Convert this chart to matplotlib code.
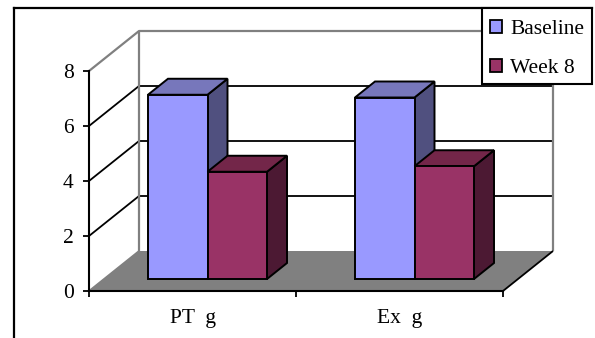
import matplotlib
matplotlib.use("Agg")
import matplotlib.pyplot as plt
from matplotlib.lines import Line2D
from matplotlib.patches import Patch, Polygon, Rectangle

categories = ["PT  g", "Ex  g"]
series_names = ["Baseline", "Week 8"]
baseline = [6.7, 6.6]
week8 = [3.9, 4.1]
y_ticks = [0, 2, 4, 6, 8]

# colours: front, top, side
blue = ("#9999FF", "#7777BB", "#50507F")
maroon = ("#993366", "#732649", "#4C1933")
wall = "#808080"

plt.rcParams["font.family"] = ["Liberation Serif", "DejaVu Serif"]

W, H = 595, 338
fig = plt.figure(figsize=(W / 100, H / 100), dpi=100)
ax = fig.add_axes([89 / W, (H - 291) / H, 414 / W, 220 / H])
ax.set_xlim(0, 2)
ax.set_ylim(0, 8)

# oblique depth of the 3D box, in data units
DX = 50 / 207
DY = 40 / 27.5


def proj(x, y, d):
    return (x + DX * d, y + DY * d)


def poly(pts, fc, ec="black", lw=1.4, z=2):
    ax.add_patch(Polygon(pts, closed=True, fc=fc, ec=ec, lw=lw, zorder=z,
                         clip_on=False, joinstyle="miter"))


def line(pts, color="black", lw=1.3, z=1):
    xs = [p[0] for p in pts]
    ys = [p[1] for p in pts]
    ax.plot(xs, ys, color=color, lw=lw, zorder=z, clip_on=False,
            solid_capstyle="butt")


# gridlines on side and back wall
for v in y_ticks[1:-1]:
    line([proj(0, v, 0), proj(0, v, 1), proj(2, v, 1)])

# gray wall outline
line([proj(0, 8, 0), proj(0, 8, 1), proj(2, 8, 1), proj(2, 0, 1)], color=wall, lw=1.6, z=1.5)
line([proj(0, 8, 1), proj(0, 0, 1)], color=wall, lw=1.6, z=1.5)

# floor
poly([proj(0, 0, 0), proj(2, 0, 0), proj(2, 0, 1), proj(0, 0, 1)], wall, ec="none", z=1.6)
line([proj(0, 0, 0), proj(0, 0, 1)], color=wall, z=1.7)
line([proj(2, 0, 0), proj(2, 0, 1)], z=1.7)


def bar(x0, x1, v, cols, z):
    d0, d1 = 0.3, 0.7
    poly([proj(x1, 0, d0), proj(x1, 0, d1), proj(x1, v, d1), proj(x1, v, d0)], cols[2], z=z)
    poly([proj(x0, v, d0), proj(x1, v, d0), proj(x1, v, d1), proj(x0, v, d1)], cols[1], z=z)
    poly([proj(x0, 0, d0), proj(x1, 0, d0), proj(x1, v, d0), proj(x0, v, d0)], cols[0], z=z + 0.1)


BW = 0.2875
for i in range(len(categories)):
    c = i + 0.5
    bar(c - BW, c, baseline[i], blue, 2)
    bar(c, c + BW, week8[i], maroon, 3)

# axes
for s in ["top", "right"]:
    ax.spines[s].set_visible(False)
for s in ["left", "bottom"]:
    ax.spines[s].set_linewidth(1.5)
    ax.spines[s].set_zorder(5)
ax.patch.set_visible(False)
ax.set_yticks(y_ticks)
ax.set_xticks([0, 1, 2])
ax.set_xticklabels([])
ax.set_xticks([0.5, 1.5], minor=True)
ax.set_xticklabels(categories, minor=True)
ax.tick_params(axis="x", which="major", length=4, width=1.3)
ax.tick_params(axis="x", which="minor", length=0, pad=13, labelsize=15.5)
ax.tick_params(axis="y", length=4, width=1.3, labelsize=15.5, pad=7)

# outer border, no right or bottom edge in the picture
fig.add_artist(Line2D([14 / W, 14 / W], [0, (H - 8) / H], color="black", lw=1.6))
fig.add_artist(Line2D([14 / W, 592 / W], [(H - 8) / H, (H - 8) / H], color="black", lw=1.6))

# legend box drawn apart so its vertical padding can differ from the horizontal
fig.add_artist(Rectangle((482 / W, (H - 84) / H), 110 / W, 76 / H, fc="white", ec="black",
                         lw=1.5, transform=fig.transFigure, zorder=4))
handles = [Patch(fc=blue[0], ec="black", lw=1.3), Patch(fc=maroon[0], ec="black", lw=1.3)]
leg = fig.legend(handles, series_names, loc="center",
                 bbox_to_anchor=(537 / W, (H - 49) / H), borderaxespad=0,
                 frameon=False, fontsize=15.5,
                 handlelength=0.58, handleheight=0.58, handletextpad=0.38,
                 labelspacing=0.9, borderpad=0.36)
leg.set_zorder(5)

fig.savefig("out.png", dpi=100)
